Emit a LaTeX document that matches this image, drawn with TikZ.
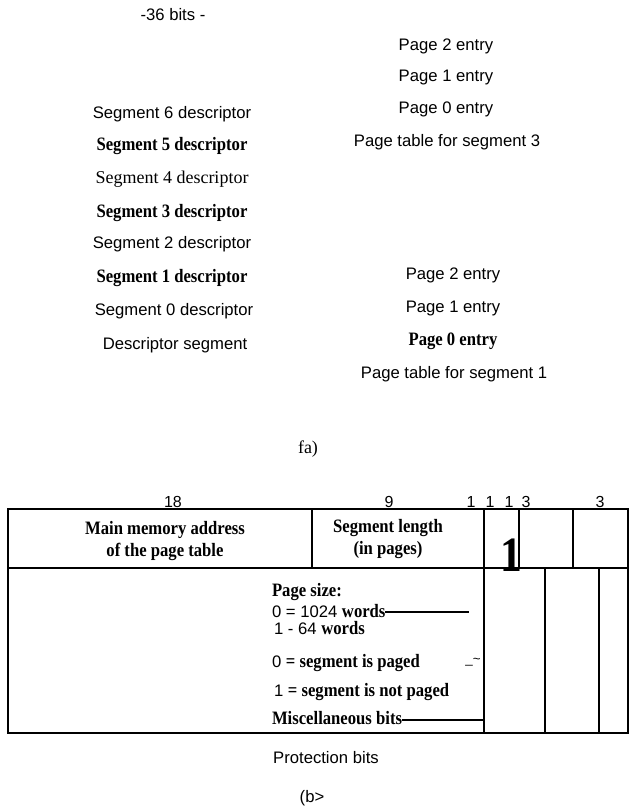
\documentclass[tikz,border=0pt]{standalone}
\usepackage{fontspec}
\setmainfont{Liberation Serif}
\setsansfont{Liberation Sans}
\newfontfamily\bsfont[FakeStretch=0.88]{Liberation Serif Bold}
\begin{document}
\begin{tikzpicture}[x=0.75pt,y=-0.75pt,
  every node/.style={inner sep=0pt, outer sep=0pt},
  sans/.style={font=\fontsize{12.5}{15}\sffamily},
  bser/.style={font=\fontsize{14.2}{17}\bsfont},
  ser/.style={font=\fontsize{13.5}{16}\rmfamily},
  num/.style={font=\fontsize{12}{14}\sffamily},
  frame/.style={line width=1pt},
  lead/.style={line width=1.3pt}]
\useasboundingbox (0,0) rectangle (630,811);

% ---------- part (a) ----------
\node[sans] (bits) at (173,15) {-36 bits -};
\node[sans] (s6) at (172,114) {Segment 6 descriptor};
\node[bser] (s5) at (172,146) {Segment 5 descriptor};
\node[ser]  (s4) at (172,179) {Segment 4 descriptor};
\node[bser] (s3) at (172,213) {Segment 3 descriptor};
\node[sans] (s2) at (172,244) {Segment 2 descriptor};
\node[bser] (s1) at (172,278) {Segment 1 descriptor};
\node[sans] (s0) at (174,311) {Segment 0 descriptor};
\node[sans] (ds) at (175,345) {Descriptor segment};

\node[sans] (a2) at (446,46) {Page 2 entry};
\node[sans] (a1) at (446,77) {Page 1 entry};
\node[sans] (a0) at (446,109) {Page 0 entry};
\node[sans] (pt3) at (447,142) {Page table for segment 3};

\node[sans] (b2) at (453,275) {Page 2 entry};
\node[sans] (b1) at (453,308) {Page 1 entry};
\node[bser] (b0) at (453,341) {Page 0 entry};
\node[sans] (pt1) at (454,374) {Page table for segment 1};

\node[ser] (capa) at (308,449) {fa)};

% ---------- part (b) ----------
\node[num] (n18) at (173,502) {18};
\node[num] (n9) at (389,502) {9};
\node[num] (n1a) at (471,502) {1};
\node[num] (n1b) at (490,502) {1};
\node[num] (n1c) at (509,502) {1};
\node[num] (n3a) at (526,502) {3};
\node[num] (n3b) at (600,502) {3};

\coordinate (tl) at (8,509);
\coordinate (br) at (628,733);
\draw[frame] (tl) rectangle (br);
\draw[frame] (8,568) -- (628,568);
\draw[frame] (312,509) -- (312,568);
\draw[frame] (484,509) -- (484,733);
\draw[frame] (519,509) -- (519,568);
\draw[frame] (573,509) -- (573,568);
\draw[frame] (545,568) -- (545,733);
\draw[frame] (599,568) -- (599,733);

\node[bser, align=center] (mma) at (165,541) {Main memory address\\of the page table};
\node[bser, align=center] (sl) at (388,539) {Segment length\\(in pages)};
\node[font=\fontsize{37}{40}\bsfont, anchor=base] (big1) at (511.5,571) {1};

\node[bser, anchor=base west] (ps) at (272,596) {Page size:};
\node[anchor=base west] (w0) at (272,617) {\fontsize{12.5}{15}\sffamily 0 = 1024 \fontsize{14.2}{17}\bsfont words};
\node[anchor=base west] (w1) at (274,634) {\fontsize{12.5}{15}\sffamily 1 - 64 \fontsize{14.2}{17}\bsfont words};
\node[anchor=base west] (pg0) at (272,667) {\fontsize{12.5}{15}\sffamily 0 \fontsize{14.2}{17}\bsfont= segment is paged};
\node[anchor=base west] (pg1) at (274,696) {\fontsize{12.5}{15}\sffamily 1 \fontsize{14.2}{17}\bsfont= segment is not paged};
\node[bser, anchor=base west] (misc) at (272,724) {Miscellaneous bits};
\node[font=\fontsize{10}{12}\sffamily] (tl2) at (473,662) {\_\char`\~};

\coordinate (wend) at (469,612);
\coordinate (mend) at (484,720);
\draw[lead] (w0.east |- wend) -- (wend);
\draw[lead] (misc.east |- mend) -- (mend);

\node[sans] (prot) at (326,758) {Protection bits};
\node[sans] (capb) at (312,798) {(b>};
\end{tikzpicture}
\end{document}
